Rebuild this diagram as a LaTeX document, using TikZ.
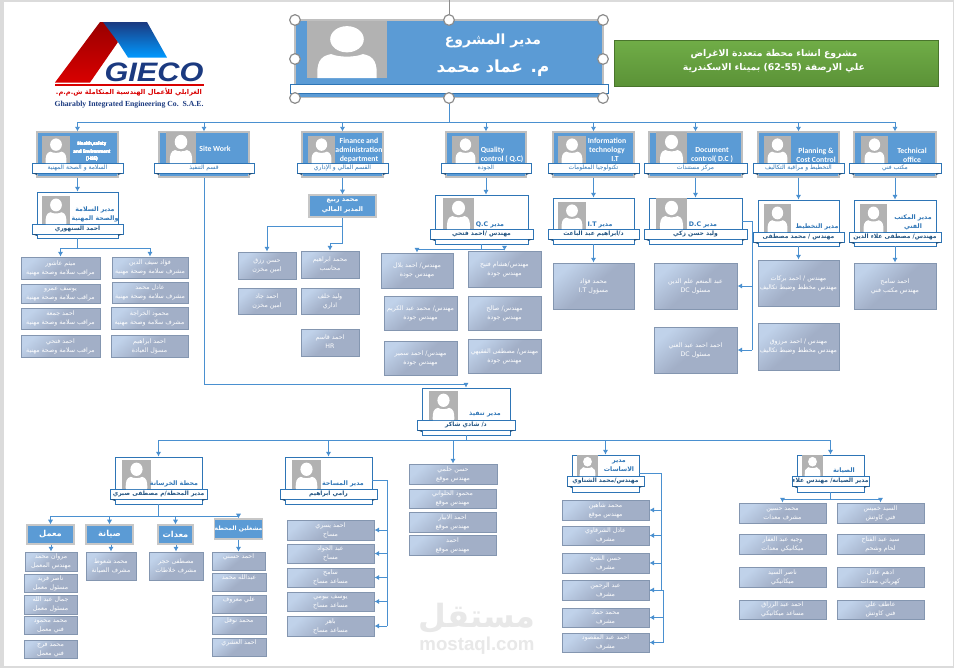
\documentclass[tikz,border=0pt]{standalone}
\usepackage{fontspec}
\setmainfont{Carlito}
\newfontfamily\arabicfont[Script=Arabic]{DejaVu Sans}
\newfontfamily\logofont{Liberation Sans}
\newfontfamily\logoserif{Liberation Serif}
\TeXXeTstate=1
\usetikzlibrary{arrows.meta}

\definecolor{linkblue}{HTML}{4A90D0}
\definecolor{cardblue}{HTML}{5B9BD5}
\definecolor{bossblue}{HTML}{2E75B6}
\definecolor{edgegrey}{HTML}{8496B0}
\definecolor{navy}{HTML}{1B3A80}
\definecolor{staffa}{HTML}{C0D2EA}
\definecolor{staffb}{HTML}{A2AFC7}
\definecolor{greena}{HTML}{70AD47}
\definecolor{greenb}{HTML}{5B9237}

\newcommand{\arfont}[2]{\arabicfont\fontsize{#1}{#2}\selectfont}

\tikzstyle{staff}=[draw=edgegrey, line width=0.75pt, inner sep=0, align=center, text=white,
  top color=staffa, bottom color=staffb, middle color=staffb, shading angle=40,
  font=\arfont{4.7}{6.75}]
\tikzstyle{head}=[draw=black!22, line width=0.9pt, fill=cardblue, inner sep=0, align=center,
  text=white, font=\arfont{6.2}{7.5}\bfseries]
\tikzstyle{dept}=[draw=black!25, line width=0.8pt, fill=cardblue, inner sep=0]
\tikzstyle{deptband}=[draw=bossblue, line width=0.6pt, fill=white, inner sep=0, align=center,
  text=bossblue, font=\arfont{4.5}{6}]
\tikzstyle{boss}=[draw=bossblue, line width=0.7pt, fill=white, inner sep=0]
\tikzstyle{bossband}=[deptband, text=bossblue!70!black, font=\arfont{4.5}{6}\bfseries]
\tikzstyle{depttitle}=[inner sep=0, align=center, text=white, font=\fontsize{5.8}{6.6}\selectfont\bfseries]
\tikzstyle{bosstitle}=[inner sep=0, align=center, text=bossblue, font=\arfont{4.7}{6.9}\bfseries]
\tikzstyle{link}=[draw=linkblue, line width=0.7pt, -{Latex[length=3.5pt,width=4pt]}]
\tikzstyle{rail}=[draw=linkblue, line width=0.7pt]
\tikzstyle{handle}=[circle, draw=black!45, line width=0.9pt, fill=white, inner sep=0, minimum size=8pt]

% style, name, x0, y0, x1, y1, text
\newcommand{\boxat}[7]{\node[#1, minimum width={(#5-#3)*0.75pt}, minimum height={(#6-#4)*0.75pt}]
  (#2) at ({(#3+#5)/2},{(#4+#6)/2}) {#7};}
\newcommand{\staff}[7]{\boxat{staff}{#1}{#2}{#3}{#4}{#5}{\strut #6\\\strut #7}}
% style, name, x0, y0, x1, y1, top of band, band text
\newcommand{\card}[8]{\boxat{#1}{#2}{#3}{#4}{#5}{#6}{}
  \boxat{#1band}{#2band}{(#3-5)}{#7}{(#5+5)}{(#7+10)}{\strut #8}
  \fill[bossblue!70!black] ({#3-5},{#7+10}) -- ++(5,0) -- ++(0,2) -- cycle;
  \fill[bossblue!70!black] ({#5+5},{#7+10}) -- ++(-5,0) -- ++(0,2) -- cycle;}
\newcommand{\photo}[4]{\begin{scope}[shift={(#1,#2)},xscale={#3-#1},yscale={#4-#2}]
  \fill[black!30] (0,0) rectangle (1,1);
  \fill[white] (.5,.32) ellipse [x radius=.21,y radius=.23];
  \fill[white] (.13,1) .. controls (.12,.75) and (.15,.62) .. (.3,.58)
    .. controls (.4,.64) and (.6,.64) .. (.7,.58)
    .. controls (.85,.62) and (.88,.75) .. (.87,1) -- cycle;
  \end{scope}}

\begin{document}
\begin{tikzpicture}[x=0.75pt,y=-0.75pt]
\useasboundingbox (0,0) rectangle (954,668);
\fill[black!14] (0,0) rectangle (954,668);
\fill[white] (3.5,2) rectangle (952.5,666);
% Watermark
\draw (477,618) node[inner sep=0, text=black!9, font=\arfont{24}{24}\bfseries](mark){\beginR مستقل\endR};
\draw (477,646) node[inner sep=0, text=black!9, font=\logofont\fontsize{14}{14}\selectfont\bfseries](markurl){mostaql.com};
% Logo
\shade[top color=red!60!black, bottom color=red!85!black] (55,82.5) -- (100,22) -- (106,22) -- (118,42) -- (90,82.5) -- cycle;
\shade[top color=navy, bottom color=cyan!60!blue] (103,22) -- (147,22) -- (167,57.5) -- (128,57.5) -- (118,42) -- cycle;
\fill[red!85!black] (55,84) rectangle (203.5,86);
\draw (154,72) node[inner sep=0, text=navy, font=\logofont\fontsize{20}{20}\selectfont\bfseries\itshape](logoname){\scalebox{1.15}[1]{GIECO}};
\draw (129,92) node[inner sep=0, text=red!85!black, font=\arfont{5}{6}\bfseries](logoar){\beginR الغرابلي للأعمال الهندسية المتكاملة ش.م.م.\endR};
\draw (129,105) node[inner sep=0, text=navy, font=\logoserif\fontsize{5.8}{7}\selectfont\bfseries](logoen){Gharably Integrated Engineering Co.\ \ S.A.E.};
% Project manager and project title
\boxat{dept}{pm}{295}{20}{603}{97.5}{}
\photo{307}{21}{387}{78}
\boxat{deptband}{pmband}{290}{84}{608.5}{93}{}
\draw (493,41) node[inner sep=0, text=white, font=\arfont{10.5}{13}\bfseries](pmrole){\beginR مدير المشروع\endR};
\draw (493,68) node[inner sep=0, text=white, font=\arfont{12.5}{15}\bfseries](pmname){\beginR م. عماد محمد\endR};
\foreach \n/\x/\y in {h1/295/20,h2/449/20,h3/603/20,h4/295/59,h5/603/59,h6/295/98,h7/449/98,h8/603/98}
  \draw (\x,\y) node[handle](\n){};
\coordinate (pmfree) at (449,0);
\draw[black!45, line width=0.7pt] (h2) -- (pmfree);
\shade[top color=greena, bottom color=greenb, draw=greenb!80!black] (614.5,40) rectangle (938.5,86);
\draw (774,61) node[inner sep=0, align=center, text=white, font=\arfont{7}{10.5}\bfseries](project)
  {\beginR مشروع انشاء محطة متعددة الاغراض\endR\\\beginR علي الارصفة \beginL(62-55)\endL{} بميناء الاسكندرية\endR};
% Departments
\card{dept}{hse}{37}{132}{118}{177}{163}{\beginR السلامة و الصحة المهنية\endR}
\card{dept}{site}{159}{132}{249}{177}{163}{\beginR قسم التنفيذ\endR}
\card{dept}{fin}{302}{132}{383}{177}{163}{\beginR القسم المالي و الإداري\endR}
\card{dept}{qc}{446}{132}{526}{177}{163}{\beginR الجودة\endR}
\card{dept}{it}{553}{132}{634}{177}{163}{\beginR تكنولوجيا المعلومات\endR}
\card{dept}{dc}{649}{132}{742}{177}{163}{\beginR مركز مستندات\endR}
\card{dept}{plan}{758}{132}{839}{177}{163}{\beginR التخطيط و مراقبة التكاليف\endR}
\card{dept}{tech}{854}{132}{936}{177}{163}{\beginR مكتب فني\endR}
\foreach \a/\b/\c in {42/70/136,166/196/132,308/335/136,452/479/136,558/586/136,656/687/132,764/791/136,861/888/136}
  \photo{\a}{\c}{\b}{163}
\draw (92,152) node[depttitle, font=\fontsize{3.9}{5.6}\selectfont\bfseries](hsetitle){Health,safety\\and Environment\\(HSE)};
\draw (215,149) node[depttitle](sitetitle){Site Work};
\draw (359,150.5) node[depttitle](fintitle){Finance and\\administration\\department};
\draw (502,155) node[depttitle, align=left](qctitle){Quality\\control ( Q.C)};
\draw (607,150) node[depttitle](ittitle){Information\\technology\\\hspace*{12pt}I.T};
\draw (712,155) node[depttitle](dctitle){Document\\control( D.C )};
\draw (816,155) node[depttitle](plantitle){Planning \&\\Cost Control};
\draw (912,155) node[depttitle](techtitle){Technical\\office};
% Department managers
\card{boss}{hsemgr}{37}{192}{118}{238}{224}{\beginR احمد السنهوري\endR}
\card{boss}{qcmgr}{435}{195}{528}{244}{229}{\beginR مهندس /احمد فتحي\endR}
\card{boss}{itmgr}{553}{198}{634}{244}{229}{\beginR د/ابراهيم عبد الباعث\endR}
\card{boss}{dcmgr}{649}{198}{742}{244}{229}{\beginR وليد حسن زكي\endR}
\card{boss}{planmgr}{758}{200}{839}{246}{232}{\beginR مهندس / محمد مصطفى\endR}
\card{boss}{techmgr}{854}{200}{936}{246}{232}{\beginR مهندس/ مصطفى علاء الدين\endR}
\photo{42}{196}{70}{224}
\photo{443}{198}{474}{229}
\photo{558}{202}{586}{229}
\photo{656}{198}{687}{229}
\photo{764}{204}{791}{232}
\photo{860}{204}{887}{232}
\draw (95,214) node[bosstitle](hsemgrtitle){\beginR مدير السلامة\endR\\\beginR والصحة المهنية\endR};
\draw (490,225) node[bosstitle](qcmgrtitle){\beginR مدير \beginL Q.C\endL\endR};
\draw (600,225) node[bosstitle](itmgrtitle){\beginR مدير \beginL I.T\endL\endR};
\draw (703,225) node[bosstitle](dcmgrtitle){\beginR مدير \beginL D.C\endL\endR};
\draw (817,227) node[bosstitle](planmgrtitle){\beginR مدير التخطيط\endR};
\draw (913,222) node[bosstitle](techmgrtitle){\beginR مدير المكتب\endR\\\beginR الفني\endR};
\boxat{head, font=\arfont{4.8}{7.5}\bfseries}{finmgr}{309}{195}{376}{217}{\beginR محمد ربيع\endR\\\beginR المدير المالي\endR}
% Safety staff
\staff{hl1}{21}{257}{100}{279}{\beginR ميثم عاشور\endR}{\beginR مراقب سلامة وصحة مهنية\endR}
\staff{hl2}{21}{284}{100}{303}{\beginR يوسف عمرو\endR}{\beginR مراقب سلامة وصحة مهنية\endR}
\staff{hl3}{21}{308}{100}{329}{\beginR احمد جمعة\endR}{\beginR مراقب سلامة وصحة مهنية\endR}
\staff{hl4}{21}{335}{100}{357}{\beginR احمد فتحي\endR}{\beginR مراقب سلامة وصحة مهنية\endR}
\staff{hr1}{112}{257}{188}{278}{\beginR فؤاد سيف الدين\endR}{\beginR مشرف سلامة وصحة مهنية\endR}
\staff{hr2}{112}{282}{188}{303}{\beginR عادل محمد\endR}{\beginR مشرف سلامة وصحة مهنية\endR}
\staff{hr3}{111}{307}{188}{329}{\beginR محمود الخراجة\endR}{\beginR مشرف سلامة وصحة مهنية\endR}
\staff{hr4}{111}{335}{188}{357}{\beginR احمد ابراهيم\endR}{\beginR مسؤل العيادة\endR}
% Finance staff
\staff{finr1}{301}{251}{359}{278}{\beginR محمد ابراهيم\endR}{\beginR محاسب\endR}
\staff{finr2}{301}{288}{359}{314}{\beginR وليد خلف\endR}{\beginR اداري\endR}
\staff{finr3}{301}{329}{359}{356}{\beginR احمد قاسم\endR}{HR}
\staff{finl1}{238}{252}{296}{279}{\beginR حسن رزق\endR}{\beginR امين مخزن\endR}
\staff{finl2}{238}{288}{296}{314}{\beginR احمد جاد\endR}{\beginR امين مخزن\endR}
% Quality staff
\staff{qcr1}{468}{251}{541}{287}{\beginR مهندس/هشام فتيح\endR}{\beginR مهندس جودة\endR}
\staff{qcr2}{468}{296}{541}{330}{\beginR مهندس/ صالح\endR}{\beginR مهندس جودة\endR}
\staff{qcr3}{468}{339}{541}{373}{\beginR مهندس/ مصطفى الفقيهي\endR}{\beginR مهندس جودة\endR}
\staff{qcl1}{381}{253}{453}{288}{\beginR مهندس/ احمد بلال\endR}{\beginR مهندس جودة\endR}
\staff{qcl2}{384}{296}{457}{330}{\beginR مهندس/ محمد عبد الكريم\endR}{\beginR مهندس جودة\endR}
\staff{qcl3}{384}{341}{457}{375}{\beginR مهندس/ احمد سمير\endR}{\beginR مهندس جودة\endR}
% IT, documents, planning, technical office
\staff{it1}{553}{263}{634}{309}{\beginR محمد فؤاد\endR}{\beginR مسؤول \beginL I.T\endL\endR}
\staff{dc1}{654}{263}{737}{309}{\beginR عبد المنعم علم الدين\endR}{\beginR مسئول \beginL DC\endL\endR}
\staff{dc2}{654}{327}{737}{373}{\beginR احمد احمد عبد الغني\endR}{\beginR مسئول \beginL DC\endL\endR}
\staff{plan1}{758}{260}{839}{306}{\beginR مهندس / احمد بركات\endR}{\beginR مهندس مخطط وضبط تكاليف\endR}
\staff{plan2}{758}{323}{839}{370}{\beginR مهندس / احمد مرزوق\endR}{\beginR مهندس مخطط وضبط تكاليف\endR}
\staff{tech1}{854}{263}{936}{309}{\beginR احمد سامح\endR}{\beginR مهندس مكتب فني\endR}
% Site
\card{boss}{sitemgr}{422}{388}{510}{435}{420}{\beginR د/ شادي شاكر\endR}
\card{boss}{concrete}{115}{457}{202}{504}{489}{\beginR مدير المحطة/م مصطفى صبري\endR}
\card{boss}{survey}{285}{457}{372}{504}{489}{\beginR رامي ابراهيم\endR}
\card{boss}{found}{572}{455}{639}{492}{476}{\beginR مهندس/محمد الشناوي\endR}
\card{boss}{maint}{797}{455}{864}{492}{476}{\beginR مدير الصيانة/ مهندس علاء\endR}
\photo{429}{391}{458}{420}
\photo{122}{460}{151}{489}
\photo{292}{460}{321}{489}
\photo{577}{455}{598}{476}
\photo{802}{455}{823}{476}
\draw (485,414) node[bosstitle](sitetitle2){\beginR مدير تنفيذ\endR};
\draw (174,484) node[bosstitle](concretetitle){\beginR محطة الخرسانة\endR};
\draw (343,484) node[bosstitle](surveytitle){\beginR مدير المساحة\endR};
\draw (619,466) node[bosstitle](foundtitle){\beginR مدير\endR\\\beginR الاساسات\endR};
\draw (844,471) node[bosstitle](mainttitle){\beginR الصيانة\endR};
% Concrete station
\boxat{head}{lab}{27}{525}{74}{544}{\beginR معمل\endR}
\boxat{head}{mnt}{86}{525}{133}{544}{\beginR صيانة\endR}
\boxat{head}{eqp}{158}{525}{193}{544}{\beginR معدات\endR}
\boxat{head, font=\arfont{4.5}{7.5}\bfseries}{opr}{215}{519}{262}{539}{\beginR مشغلين المحطة\endR}
\staff{lab1}{25}{552}{77}{571}{\beginR مروان محمد\endR}{\beginR مهندس المعمل\endR}
\staff{lab2}{24}{574}{77}{592}{\beginR ناصر فريد\endR}{\beginR مسئول معمل\endR}
\staff{lab3}{24}{595}{77}{614}{\beginR جمال عبد الله\endR}{\beginR مسئول معمل\endR}
\staff{lab4}{24}{616}{77}{634}{\beginR محمد محمود\endR}{\beginR فني معمل\endR}
\staff{lab5}{24}{640}{77}{658}{\beginR محمد فرج\endR}{\beginR فني معمل\endR}
\staff{mnt1}{86}{552}{136}{580}{\beginR محمد شعوط\endR}{\beginR مشرف الصيانة\endR}
\staff{eqp1}{149}{552}{203}{580}{\beginR مصطفى حجر\endR}{\beginR مشرف خلاطات\endR}
\staff{opr1}{212}{552}{265}{570}{\beginR احمد حسني\endR}{}
\staff{opr2}{212}{574}{266}{591}{\beginR عبدالله محمد\endR}{}
\staff{opr3}{212}{595}{266}{613}{\beginR علي معروف\endR}{}
\staff{opr4}{212}{616}{266}{634}{\beginR محمد نوفل\endR}{}
\staff{opr5}{212}{638}{266}{656}{\beginR احمد العشري\endR}{}
% Survey
\staff{sv1}{287}{520}{374}{540}{\beginR احمد يسري\endR}{\beginR مساح\endR}
\staff{sv2}{287}{544}{374}{563}{\beginR عبد الجواد\endR}{\beginR مساح\endR}
\staff{sv3}{287}{568}{374}{587}{\beginR سامح\endR}{\beginR مساعد مساح\endR}
\staff{sv4}{287}{592}{374}{611}{\beginR يوسف بيومي\endR}{\beginR مساعد مساح\endR}
\staff{sv5}{287}{616}{374}{636}{\beginR باهر\endR}{\beginR مساعد مساح\endR}
% Site engineers
\staff{eng1}{409}{464}{497}{484}{\beginR حسن حلمي\endR}{\beginR مهندس موقع\endR}
\staff{eng2}{409}{489}{496}{508}{\beginR محمود الحلواني\endR}{\beginR مهندس موقع\endR}
\staff{eng3}{409}{512}{496}{532}{\beginR احمد الابيار\endR}{\beginR مهندس موقع\endR}
\staff{eng4}{409}{535}{496}{555}{\beginR احمد\endR}{\beginR مهندس موقع\endR}
% Foundations
\staff{fd1}{562}{500}{649}{520}{\beginR محمد شاهين\endR}{\beginR مهندس موقع\endR}
\staff{fd2}{562}{526}{649}{545}{\beginR عادل الشرقاوي\endR}{\beginR مشرف\endR}
\staff{fd3}{562}{553}{649}{573}{\beginR حسن الشيخ\endR}{\beginR مشرف\endR}
\staff{fd4}{562}{580}{649}{600}{\beginR عبد الرحمن\endR}{\beginR مشرف\endR}
\staff{fd5}{562}{608}{649}{627}{\beginR محمد حماد\endR}{\beginR مشرف\endR}
\staff{fd6}{562}{633}{649}{652}{\beginR احمد عبد المقصود\endR}{\beginR مشرف\endR}
% Maintenance
\staff{ml1}{739}{503}{826}{523}{\beginR محمد حسين\endR}{\beginR مشرف معدات\endR}
\staff{ml2}{739}{534}{826}{554}{\beginR وجيه عبد الغفار\endR}{\beginR ميكانيكي معدات\endR}
\staff{ml3}{739}{567}{826}{587}{\beginR ناصر السيد\endR}{\beginR ميكانيكي\endR}
\staff{ml4}{739}{600}{826}{619}{\beginR احمد عبد الرزاق\endR}{\beginR مساعد ميكانيكي\endR}
\staff{mr1}{837}{503}{924}{523}{\beginR السيد خميس\endR}{\beginR فني كاوتش\endR}
\staff{mr2}{837}{534}{924}{554}{\beginR سيد عبد الفتاح\endR}{\beginR لحام وشحم\endR}
\staff{mr3}{837}{567}{924}{587}{\beginR ادهم عادل\endR}{\beginR كهربائي معدات\endR}
\staff{mr4}{837}{600}{924}{619}{\beginR عاطف علي\endR}{\beginR فني كاوتش\endR}
% Connectors, upper half
\coordinate (topbus) at (449,122);
\draw[rail] (h7) -- (topbus);
\foreach \n in {hse,site,fin,qc,it,dc,plan,tech}
  \draw[link] (topbus) -| (\n.north);
\foreach \a/\b in {hse/hsemgr,fin/finmgr,it/itmgr,dc/dcmgr,plan/planmgr,tech/techmgr,itmgr/it1,planmgr/plan1,techmgr/tech1}
  \draw[link] (\a.south) -- (\b.north);
\draw[link] (qc.south) -- (qc.south |- qcmgr.north);
\coordinate (hsebus) at (77.5,248);
\draw[rail] (hsemgr.south) -- (hsebus);
\draw[link] (hsebus) -| (hl1.north);
\draw[link] (hsebus) -| (hr1.north);
\coordinate (finbus1) at (342.5,226);
\coordinate (finbus2) at (342.5,243);
\draw[rail] (finmgr.south) -- (finbus2);
\draw[link] (finbus1) -| (finl1.north);
\draw[link] (finbus2) -| (finr1.north);
\coordinate (qcbus) at (481.5,249);
\draw[rail] (qcmgr.south) -- (qcbus);
\draw[link] (qcbus) -| (qcl1.north);
\draw[link] (qcbus) -| (qcr1.north);
\coordinate (dcrail) at (752,221);
\draw[rail] (dcmgr.east) -- (dcrail) -- (dcrail |- dc2.east);
\foreach \n in {dc1,dc2}
  \draw[link] (dcrail |- \n.east) -- (\n.east);
% Connectors, lower half
\coordinate (sitebus) at (466,384);
\draw[link] (site.south) |- (sitebus) -- (sitemgr.north);
\coordinate (lowbus) at (466,440.7);
\draw[rail] (sitemgr.south) -- (lowbus);
\foreach \n in {concrete,survey,eng1,found,maint}
  \draw[link] (lowbus) -| (\n.north);
\coordinate (conbus) at (158.5,516);
\draw[rail] (concrete.south) -- (conbus);
\foreach \n in {lab,mnt,eqp,opr}
  \draw[link] (conbus) -| (\n.north);
\foreach \a/\b in {lab/lab1,mnt/mnt1,eqp/eqp1,opr/opr1}
  \draw[link] (\a.south -| \b.north) -- (\b.north);
\coordinate (svrail) at (387,480.5);
\draw[rail] (survey.east) -- (svrail) -- (svrail |- sv5.east);
\foreach \n in {sv1,sv2,sv3,sv4,sv5}
  \draw[link] (svrail |- \n.east) -- (\n.east);
\coordinate (fdrail) at (661,473.5);
\draw[rail] (found.east) -- (fdrail) -- (fdrail |- fd4.east);
\foreach \n in {fd1,fd2,fd3,fd4}
  \draw[link] (fdrail |- \n.east) -- (\n.east);
\coordinate (fdrail2) at (663,590);
\draw[rail] (fd4.east) -- (fdrail2) -- (fdrail2 |- fd6.east);
\foreach \n in {fd5,fd6}
  \draw[link] (fdrail2 |- \n.east) -- (\n.east);
\coordinate (mbus) at (830.5,499);
\draw[rail] (maint.south) -- (mbus);
\draw[link] (mbus) -| (ml1.north);
\draw[link] (mbus) -| (mr1.north);
\end{tikzpicture}
\end{document}
